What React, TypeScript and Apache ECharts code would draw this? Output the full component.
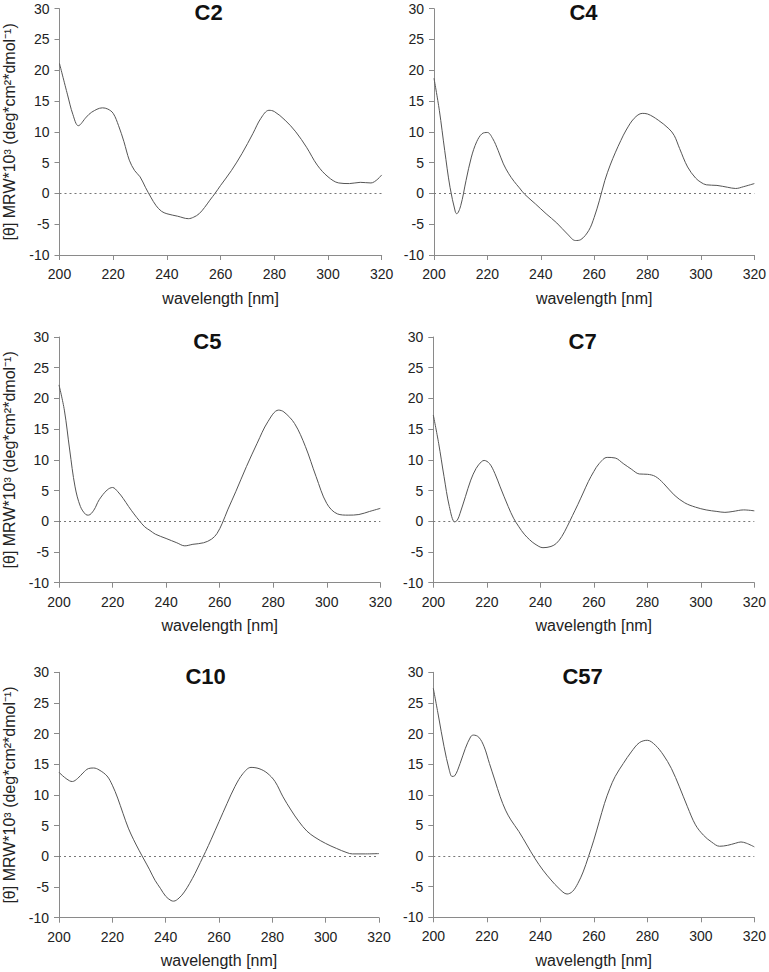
import React, { useEffect, useRef } from "react";
import * as echarts from "echarts";

const titles = ["C2", "C4", "C5", "C7", "C10", "C57"];
const xTicks = [200, 220, 240, 260, 280, 300, 320];
const yTicks = [-10, -5, 0, 5, 10, 15, 20, 25, 30];

const c2Wl = [200, 203, 205, 207, 210, 212, 216, 218, 220, 222, 224, 226, 228, 230, 232, 234, 236, 238, 240, 244, 248, 250, 252, 254, 256, 258, 260, 264, 268, 272, 275, 278, 280, 284, 288, 292, 296, 300, 304, 308, 312, 316, 320];
const c2Val = [21.1, 16.0, 12.8, 11.0, 12.4, 13.2, 13.9, 13.7, 13.0, 11.0, 8.4, 5.4, 3.7, 2.7, 1.0, -0.6, -2.0, -2.9, -3.3, -3.7, -4.1, -3.85, -3.3, -2.3, -1.1, 0.05, 1.3, 3.7, 6.5, 9.7, 12.2, 13.5, 13.3, 11.9, 10.0, 7.5, 4.6, 2.7, 1.7, 1.6, 1.8, 1.7, 3.0];

const c4Wl = [200, 202, 204, 206, 208, 208.5, 210, 212, 214, 216, 218, 220, 222, 224, 226, 228, 230, 232, 234, 238, 242, 246, 250, 253, 255, 258, 260, 262, 264, 266, 268, 270, 272, 275, 278, 280, 284, 288, 290, 292, 295, 298, 300, 302, 306, 310, 313, 316, 320];
const c4Val = [18.7, 13.5, 7.0, 1.0, -3.0, -3.3, -2.0, 2.1, 5.9, 8.4, 9.7, 9.9, 8.9, 7.0, 4.8, 3.2, 1.95, 0.9, -0.15, -1.7, -3.3, -4.8, -6.6, -7.65, -7.5, -6.0, -3.9, -1.1, 2.1, 4.6, 6.7, 8.6, 10.3, 12.2, 13.0, 12.9, 11.9, 10.5, 9.4, 7.3, 4.3, 2.5, 1.8, 1.4, 1.3, 1.0, 0.8, 1.1, 1.6];

const c5Wl = [200, 202, 204, 206, 208, 210, 211, 213, 215, 218, 220, 222, 224, 226, 228, 230, 232, 234, 236, 240, 244, 247, 250, 254, 257, 259, 261, 263, 266, 270, 274, 278, 282, 284, 288, 292, 296, 300, 304, 308, 312, 316, 320];
const c5Val = [22.2, 18.1, 11.6, 5.6, 2.4, 1.1, 1.0, 1.8, 3.5, 5.1, 5.5, 4.8, 3.7, 2.4, 1.2, 0.1, -0.9, -1.5, -2.1, -2.8, -3.5, -4.0, -3.75, -3.5, -2.9, -2.0, -0.3, 1.85, 4.8, 8.9, 12.7, 16.2, 18.1, 17.8, 15.9, 12.2, 7.3, 2.9, 1.2, 1.0, 1.1, 1.6, 2.1];

const c7Wl = [200, 202, 204, 206, 208, 209, 210, 212, 214, 216, 218, 219, 221, 223, 225, 228, 230, 232, 234, 236, 238, 241, 244, 246, 248, 250, 252, 254, 256, 258, 260, 262, 265, 268, 271, 274, 277, 280, 283, 286, 290, 294, 298, 302, 306, 309, 312, 316, 320];
const c7Val = [17.3, 12.7, 7.3, 2.4, -0.1, 0.2, 1.3, 4.0, 6.7, 8.6, 9.7, 9.9, 9.4, 7.8, 5.6, 2.4, 0.5, -0.9, -2.1, -3.0, -3.7, -4.3, -4.1, -3.6, -2.5, -0.9, 0.9, 2.7, 4.6, 6.5, 8.1, 9.4, 10.4, 10.3, 9.4, 8.5, 7.7, 7.65, 7.3, 6.2, 4.3, 3.0, 2.3, 1.85, 1.6, 1.45, 1.6, 1.85, 1.7];

const c10Wl = [200, 202, 204, 205, 207, 209, 211, 213, 215, 218, 220, 222, 224, 226, 228, 230, 232, 234, 236, 238, 240, 242, 243, 245, 247, 249, 251, 253, 255, 257, 260, 263, 266, 269, 272, 275, 278, 281, 284, 287, 290, 293, 296, 300, 304, 308, 310, 315, 320];
const c10Val = [13.7, 12.9, 12.3, 12.2, 12.7, 13.6, 14.3, 14.4, 14.1, 13.1, 11.6, 9.5, 7.0, 4.6, 2.7, 1.0, -0.6, -2.2, -3.9, -5.2, -6.5, -7.2, -7.3, -6.8, -5.8, -4.4, -2.8, -1.0, 0.8, 2.7, 5.65, 8.6, 11.4, 13.5, 14.5, 14.3, 13.6, 12.2, 9.7, 7.55, 5.65, 4.1, 3.1, 2.1, 1.3, 0.6, 0.4, 0.4, 0.45];

const c57Wl = [200, 202, 204, 206, 207, 208, 210, 212, 214, 215, 217, 219, 221, 223, 225, 227, 229, 232, 235, 238, 241, 244, 247, 250, 252, 254, 256, 258, 260, 262, 264, 266, 268, 271, 274, 277, 280, 283, 286, 289, 292, 295, 298, 301, 304, 307, 310, 313, 315, 317, 320];
const c57Val = [27.4, 22.7, 17.9, 14.0, 13.0, 13.1, 15.1, 17.6, 19.5, 19.75, 19.4, 17.85, 15.1, 12.4, 9.7, 7.5, 5.9, 4.0, 1.8, -0.4, -2.3, -3.9, -5.3, -6.2, -5.8, -4.5, -2.6, -0.1, 2.6, 5.6, 8.6, 11.05, 13.0, 15.1, 17.0, 18.5, 18.9, 18.1, 16.5, 14.3, 11.3, 8.05, 5.1, 3.4, 2.3, 1.6, 1.75, 2.1, 2.3, 2.1, 1.5];

const wls = [c2Wl, c4Wl, c5Wl, c7Wl, c10Wl, c57Wl];
const vals = [c2Val, c4Val, c5Val, c7Val, c10Val, c57Val];

const yName = "[θ] MRW*10³ (deg*cm²*dmol⁻¹)";
const xName = "wavelength [nm]";

// grid boxes [left, top, width, height]
const grids = [
  [59.5, 8.7, 322.2, 246.3],
  [434, 8.7, 323, 246.3],
  [58.3, 337, 322, 245.7],
  [433.3, 337, 322.7, 245.7],
  [56.3, 672.3, 322.7, 245.4],
  [433.3, 672.3, 322.7, 245],
];

const FONT = "'Liberation Sans', Arial, sans-serif";
const AXIS_COLOR = "#8a8a8a";

export default function App() {
  const ref = useRef<HTMLDivElement>(null);
  useEffect(() => {
    if (!ref.current) return;
    const chart = echarts.init(ref.current, null, { renderer: "svg" });
    const grid: any[] = [];
    const xAxis: any[] = [];
    const yAxis: any[] = [];
    const series: any[] = [];
    const title: any[] = [];
    grids.forEach((g, i) => {
      const [left, top, width, height] = g;
      grid.push({ left, top, width, height, containLabel: false });
      title.push({
        text: titles[i],
        left: left + width / 2 - 12,
        top: top - 7,
        padding: 0,
        textAlign: "center",
        textStyle: { fontFamily: FONT, fontSize: 22, fontWeight: "bold", color: "#111", lineHeight: 22 },
      });
      xAxis.push({
        type: "value",
        gridIndex: i,
        min: 200,
        max: 320,
        interval: 20,
        name: xName,
        nameLocation: "middle",
        nameGap: 35,
        nameTextStyle: { fontFamily: FONT, fontSize: 16, color: "#222" },
        axisLine: { show: true, onZero: false, lineStyle: { color: AXIS_COLOR, width: 1 } },
        axisTick: { show: true, length: 5, lineStyle: { color: AXIS_COLOR } },
        axisLabel: { fontFamily: FONT, fontSize: 14, color: "#222", margin: 12 },
        splitLine: { show: false },
      });
      yAxis.push({
        type: "value",
        gridIndex: i,
        min: -10,
        max: 30,
        interval: 5,
        name: i % 2 === 0 ? yName : "",
        nameLocation: "middle",
        nameGap: 42,
        nameTextStyle: { fontFamily: FONT, fontSize: 16, color: "#222" },
        axisLine: { show: true, lineStyle: { color: AXIS_COLOR, width: 1 } },
        axisTick: { show: true, length: 5, lineStyle: { color: AXIS_COLOR } },
        axisLabel: { fontFamily: FONT, fontSize: 14, color: "#222", margin: 10 },
        splitLine: { show: false },
      });
      series.push({
        type: "line",
        xAxisIndex: i,
        yAxisIndex: i,
        data: wls[i].map((w, k) => [w, vals[i][k]]),
        smooth: 0.35,
        showSymbol: false,
        symbol: "none",
        lineStyle: { color: "#555", width: 1 },
        markLine: {
          silent: true,
          symbol: "none",
          label: { show: false },
          lineStyle: { color: "#777", type: [2, 3], width: 1 },
          data: [{ yAxis: 0 }],
        },
      });
    });
    chart.setOption({
      animation: false,
      backgroundColor: "#fff",
      title,
      grid,
      xAxis,
      yAxis,
      series,
    });
    return () => chart.dispose();
  }, []);
  return (
    <div
      ref={ref}
      style={{ position: "absolute", left: 0, top: 0, width: 769, height: 972 }}
    />
  );
}
